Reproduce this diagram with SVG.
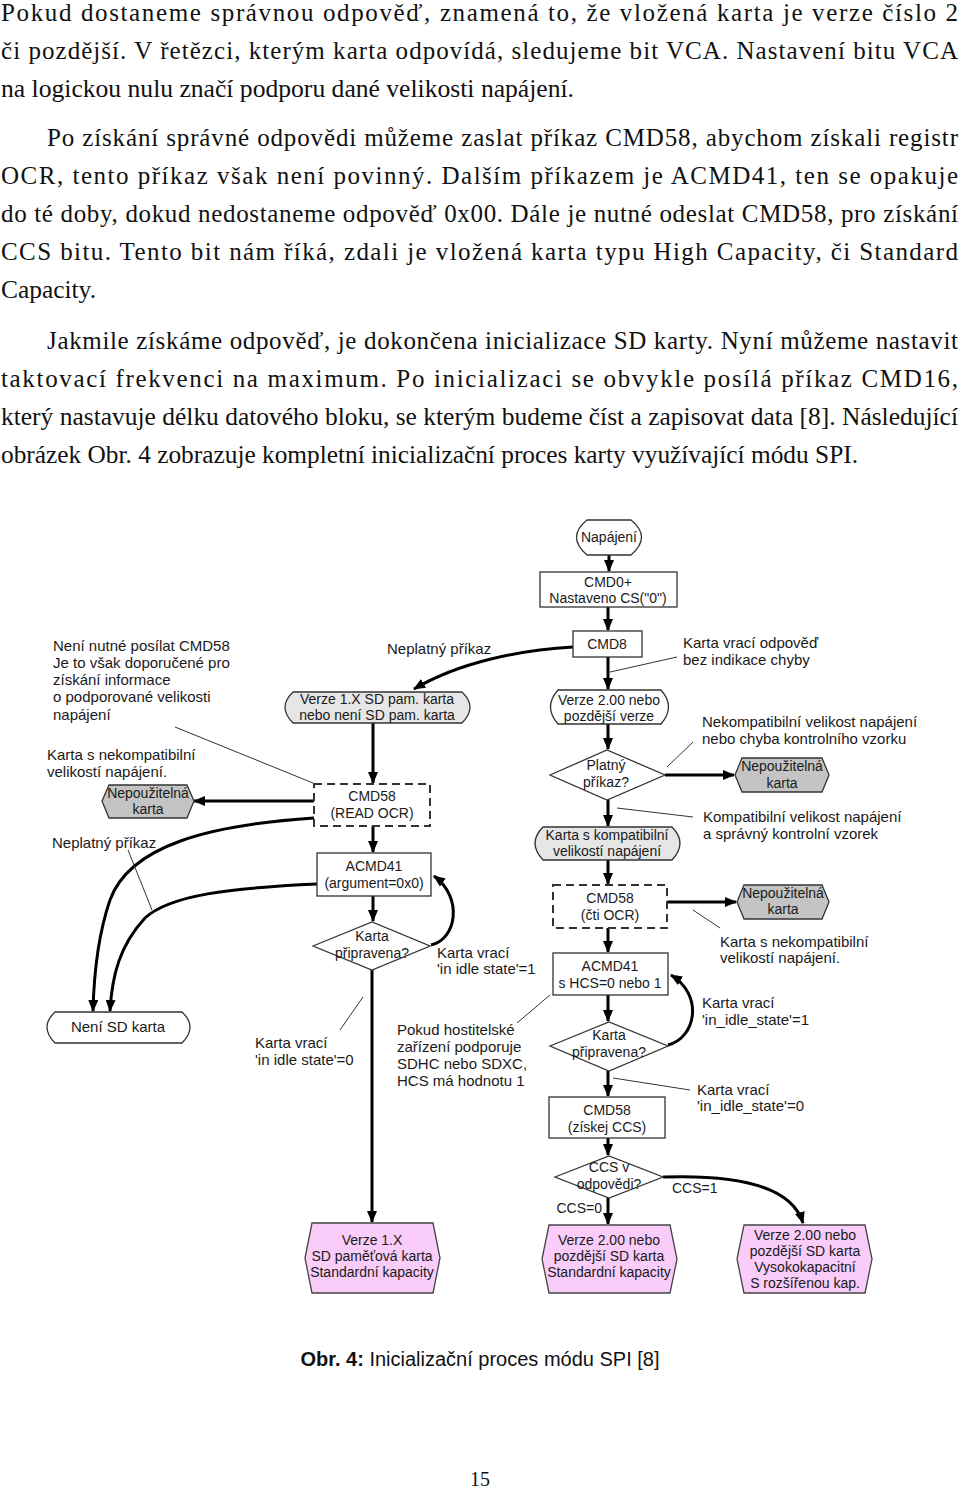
<svg xmlns="http://www.w3.org/2000/svg" width="960" height="1491" viewBox="0 0 960 1491">
<style>
.body{font-family:"Liberation Serif","Times New Roman",serif;font-size:25px;fill:#111}
.t{font-family:"Liberation Sans",Arial,sans-serif;font-size:15px;fill:#1a1a1a}
.k{font-family:"Liberation Sans",Arial,sans-serif;font-size:14px;fill:#1a1a1a;text-anchor:middle}
.c{text-anchor:middle}
.n{fill:#fff;stroke:#333;stroke-width:1.3}
.g{fill:#e6e6e6;stroke:#333;stroke-width:1.3}
.d{fill:#c4c4c4;stroke:#333;stroke-width:1.3}
.p{fill:#f9ccf9;stroke:#444;stroke-width:1.3}
.dash{fill:#fff;stroke:#333;stroke-width:2;stroke-dasharray:8,5}
.a{fill:none;stroke:#000;stroke-width:3;marker-end:url(#ah)}
.l{fill:none;stroke:#333;stroke-width:1}
</style>
<defs>
<marker id="ah" viewBox="0 0 12 10" refX="11" refY="5" markerWidth="12" markerHeight="10" orient="auto" markerUnits="userSpaceOnUse"><path d="M0,0 L12,5 L0,10 z" fill="#000"/></marker>
</defs>
<rect width="960" height="1491" fill="#fff"/>
<g id="bodytext">
<text class="body" x="1" y="21" textLength="957" lengthAdjust="spacing">Pokud dostaneme správnou odpověď, znamená to, že vložená karta je verze číslo 2</text>
<text class="body" x="1" y="59" textLength="957" lengthAdjust="spacing">či pozdější. V řetězci, kterým karta odpovídá, sledujeme bit VCA. Nastavení bitu VCA</text>
<text class="body" x="1" y="97" textLength="573" lengthAdjust="spacingAndGlyphs">na logickou nulu značí podporu dané velikosti napájení.</text>
<text class="body" x="47" y="146" textLength="911" lengthAdjust="spacing">Po získání správné odpovědi můžeme zaslat příkaz CMD58, abychom získali registr</text>
<text class="body" x="1" y="184" textLength="957" lengthAdjust="spacing">OCR, tento příkaz však není povinný. Dalším příkazem je ACMD41, ten se opakuje</text>
<text class="body" x="1" y="222" textLength="957" lengthAdjust="spacing">do té doby, dokud nedostaneme odpověď 0x00. Dále je nutné odeslat CMD58, pro získání</text>
<text class="body" x="1" y="260" textLength="957" lengthAdjust="spacing">CCS bitu. Tento bit nám říká, zdali je vložená karta typu High Capacity, či Standard</text>
<text class="body" x="1" y="298" textLength="95" lengthAdjust="spacingAndGlyphs">Capacity.</text>
<text class="body" x="47" y="349" textLength="911" lengthAdjust="spacing">Jakmile získáme odpověď, je dokončena inicializace SD karty. Nyní můžeme nastavit</text>
<text class="body" x="1" y="387" textLength="957" lengthAdjust="spacing">taktovací frekvenci na maximum. Po inicializaci se obvykle posílá příkaz CMD16,</text>
<text class="body" x="1" y="425" textLength="957" lengthAdjust="spacingAndGlyphs">který nastavuje délku datového bloku, se kterým budeme číst a zapisovat data [8]. Následující</text>
<text class="body" x="1" y="463" textLength="857" lengthAdjust="spacingAndGlyphs">obrázek Obr. 4 zobrazuje kompletní inicializační proces karty využívající módu SPI.</text>
</g>
<g id="connectors">
<line class="a" x1="609" y1="555" x2="609" y2="571"/>
<line class="a" x1="608" y1="607" x2="608" y2="630"/>
<line class="a" x1="608" y1="657" x2="608" y2="689"/>
<line class="a" x1="608" y1="724" x2="608" y2="749"/>
<line class="a" x1="608" y1="800" x2="608" y2="826"/>
<line class="a" x1="608" y1="860" x2="608" y2="884"/>
<line class="a" x1="608" y1="928" x2="608" y2="952"/>
<line class="a" x1="608" y1="995" x2="608" y2="1021"/>
<line class="a" x1="608" y1="1071" x2="608" y2="1096"/>
<line class="a" x1="608" y1="1138" x2="608" y2="1155"/>
<line class="a" x1="608" y1="1198" x2="608" y2="1224"/>
<line class="a" x1="665" y1="775" x2="734" y2="775"/>
<line class="a" x1="667" y1="902" x2="736" y2="902"/>
<path class="a" d="M573,647 C520,650 460,662 414,689"/>
<line class="a" x1="373" y1="723" x2="373" y2="783"/>
<line class="a" x1="373" y1="826" x2="373" y2="852"/>
<line class="a" x1="373" y1="896" x2="373" y2="921"/>
<line class="a" x1="372" y1="970" x2="372" y2="1222"/>
<line class="a" x1="314" y1="801" x2="194" y2="801"/>
<path class="a" d="M314,818 C210,825 130,845 110,900 C98,935 94,970 93,1011"/>
<path class="a" d="M317,884 C230,888 170,895 145,918 C120,945 112,975 110,1011"/>
<path class="a" d="M431,945 C456,940 464,898 434,876"/>
<path class="a" d="M668,1045 C696,1038 704,995 671,975"/>
<path class="a" d="M663,1177 C720,1175 790,1180 803,1223"/>
<line class="l" x1="610" y1="672" x2="677" y2="657"/>
<line class="l" x1="667" y1="767" x2="693" y2="742"/>
<line class="l" x1="617" y1="808" x2="693" y2="817"/>
<line class="l" x1="693" y1="910" x2="720" y2="928"/>
<line class="l" x1="613" y1="1078" x2="690" y2="1090"/>
<line class="l" x1="175" y1="727" x2="313" y2="783"/>
<line class="l" x1="517" y1="1023" x2="550" y2="995"/>
<line class="l" x1="363" y1="997" x2="340" y2="1030"/>
<line class="l" x1="128" y1="850" x2="152" y2="910"/>
</g>
<g id="napajeni"><path class="n" d="M587,520 H631 Q652,537 631,555 H587 Q566,537 587,520 Z"/><text class="k" x="609" y="542">Napájení</text></g>
<g id="cmd0"><rect class="n" x="540" y="572" width="137" height="35"/><text class="k" x="608" y="587">CMD0+</text><text class="k" x="608" y="603">Nastaveno CS("0")</text></g>
<g id="cmd8"><rect class="n" x="573" y="631" width="69" height="26"/><text class="k" x="607" y="649">CMD8</text></g>
<g id="verze2"><path class="n" d="M558,690 H661 Q676,707 661,724 H558 Q543,707 558,690 Z"/><text class="k" x="609" y="705">Verze 2.00 nebo</text><text class="k" x="609" y="721">pozdější verze</text></g>
<g id="platny"><polygon class="n" points="550,775 607,750 665,775 607,800"/><text class="k" x="606" y="770">Platný</text><text class="k" x="606" y="787">příkaz?</text></g>
<g id="nepouz1"><polygon class="d" points="742,758 822,758 829,775 822,792 742,792 735,775"/><text class="k" x="782" y="771">Nepoužitelná</text><text class="k" x="782" y="788">karta</text></g>
<g id="kompat"><path class="g" d="M543,827 H672 Q688,843 672,860 H543 Q527,843 543,827 Z"/><text class="k" x="607" y="840">Karta s kompatibilní</text><text class="k" x="607" y="856">velikostí napájení</text></g>
<g id="cmd58cti"><rect class="dash" x="553" y="885" width="114" height="43"/><text class="k" x="610" y="903">CMD58</text><text class="k" x="610" y="920">(čti OCR)</text></g>
<g id="nepouz2"><polygon class="d" points="744,885 822,885 829,902 822,919 744,919 737,902"/><text class="k" x="783" y="898">Nepoužitelná</text><text class="k" x="783" y="914">karta</text></g>
<g id="acmd41hcs"><rect class="n" x="553" y="953" width="115" height="42"/><text class="k" x="610" y="971">ACMD41</text><text class="k" x="610" y="988">s HCS=0 nebo 1</text></g>
<g id="pripravena2"><polygon class="n" points="550,1046 609,1022 668,1046 609,1071"/><text class="k" x="609" y="1040">Karta</text><text class="k" x="609" y="1057">připravena?</text></g>
<g id="cmd58ccs"><rect class="n" x="549" y="1097" width="116" height="41"/><text class="k" x="607" y="1115">CMD58</text><text class="k" x="607" y="1132">(získej CCS)</text></g>
<g id="ccsv"><polygon class="n" points="555,1177 609,1156 663,1177 609,1198"/><text class="k" x="609" y="1172">CCS v</text><text class="k" x="609" y="1189">odpovědi?</text></g>
<g id="pink2"><polygon class="p" points="549,1225 670,1225 677,1259 670,1293 549,1293 542,1259"/><text class="k" x="609" y="1245">Verze 2.00 nebo</text><text class="k" x="609" y="1261">pozdější SD karta</text><text class="k" x="609" y="1277">Standardní kapacity</text></g>
<g id="pink3"><polygon class="p" points="744,1225 865,1225 872,1259 865,1293 744,1293 737,1259"/><text class="k" x="805" y="1240">Verze 2.00 nebo</text><text class="k" x="805" y="1256">pozdější SD karta</text><text class="k" x="805" y="1272">Vysokokapacitní</text><text class="k" x="805" y="1288">S rozšířenou kap.</text></g>
<g id="verze1"><path class="g" d="M293,692 H462 Q478,707 462,723 H293 Q277,707 293,692 Z"/><text class="k" x="377" y="704">Verze 1.X SD pam. karta</text><text class="k" x="377" y="720">nebo není SD pam. karta</text></g>
<g id="cmd58read"><rect class="dash" x="314" y="784" width="116" height="42"/><text class="k" x="372" y="801">CMD58</text><text class="k" x="372" y="818">(READ OCR)</text></g>
<g id="nepouz0"><polygon class="d" points="109,785 187,785 194,801 187,818 109,818 102,801"/><text class="k" x="148" y="798">Nepoužitelná</text><text class="k" x="148" y="814">karta</text></g>
<g id="acmd41arg"><rect class="n" x="317" y="853" width="114" height="43"/><text class="k" x="374" y="871">ACMD41</text><text class="k" x="374" y="888">(argument=0x0)</text></g>
<g id="pripravena1"><polygon class="n" points="313,946 372,922 430,946 372,970"/><text class="k" x="372" y="941">Karta</text><text class="k" x="372" y="958">připravena?</text></g>
<g id="nenisd"><path class="n" d="M55,1012 H182 Q198,1027 182,1043 H55 Q39,1027 55,1012 Z"/><text class="k" x="118" y="1032" style="font-size:15px">Není SD karta</text></g>
<g id="pink1"><polygon class="p" points="312,1223 433,1223 440,1258 433,1293 312,1293 305,1258"/><text class="k" x="372" y="1245">Verze 1.X</text><text class="k" x="372" y="1261">SD paměťová karta</text><text class="k" x="372" y="1277">Standardní kapacity</text></g>
<g id="labels">
<text class="t" x="387" y="654">Neplatný příkaz</text>
<text class="t" x="683" y="648">Karta vrací odpověď</text>
<text class="t" x="683" y="665">bez indikace chyby</text>
<text class="t" x="702" y="727">Nekompatibilní velikost napájení</text>
<text class="t" x="702" y="744">nebo chyba kontrolního vzorku</text>
<text class="t" x="703" y="822">Kompatibilní velikost napájení</text>
<text class="t" x="703" y="839">a správný kontrolní vzorek</text>
<text class="t" x="720" y="947">Karta s nekompatibilní</text>
<text class="t" x="720" y="963">velikostí napájení.</text>
<text class="t" x="702" y="1008">Karta vrací</text>
<text class="t" x="702" y="1025">'in_idle_state'=1</text>
<text class="t" x="697" y="1095">Karta vrací</text>
<text class="t" x="697" y="1111">'in_idle_state'=0</text>
<text class="t" x="602" y="1213" text-anchor="end" style="font-size:14px">CCS=0</text>
<text class="t" x="672" y="1193" style="font-size:14px">CCS=1</text>
<text class="t" x="397" y="1035">Pokud hostitelské</text>
<text class="t" x="397" y="1052">zařízení podporuje</text>
<text class="t" x="397" y="1069">SDHC nebo SDXC,</text>
<text class="t" x="397" y="1086">HCS má hodnotu 1</text>
<text class="t" x="437" y="958">Karta vrací</text>
<text class="t" x="437" y="974">'in idle state'=1</text>
<text class="t" x="255" y="1048">Karta vrací</text>
<text class="t" x="255" y="1065">'in idle state'=0</text>
<text class="t" x="53" y="651">Není nutné posílat CMD58</text>
<text class="t" x="53" y="668">Je to však doporučené pro</text>
<text class="t" x="53" y="685">získání informace</text>
<text class="t" x="53" y="702">o podporované velikosti</text>
<text class="t" x="53" y="720">napájení</text>
<text class="t" x="47" y="760">Karta s nekompatibilní</text>
<text class="t" x="47" y="777">velikostí napájení.</text>
<text class="t" x="52" y="848">Neplatný příkaz</text>
</g>
<g id="caption">
<text x="480" y="1366" text-anchor="middle" style="font-family:'Liberation Sans',Arial,sans-serif;font-size:20px;fill:#111"><tspan font-weight="bold">Obr. 4:</tspan> Inicializační proces módu SPI [8]</text>
<text class="body" x="480" y="1486" text-anchor="middle" style="font-size:20px">15</text>
</g>
</svg>
